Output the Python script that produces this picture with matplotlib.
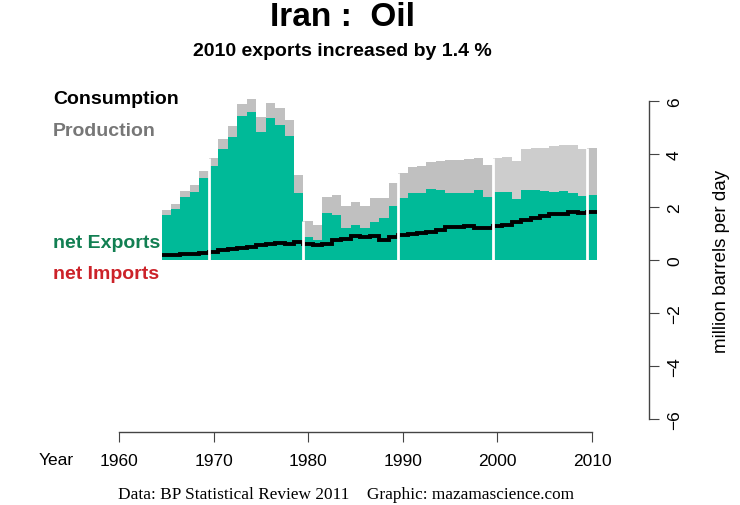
import numpy as np
import matplotlib
matplotlib.use('Agg')
import matplotlib.pyplot as plt

plt.rcParams['font.family'] = ['Liberation Sans', 'DejaVu Sans']

# Iran oil, million barrels per day
years = np.arange(1965, 2011)
production = np.array([
    1.89, 2.11, 2.59, 2.82, 3.37,
    3.85, 4.56, 5.05, 5.89, 6.06, 5.39, 5.94, 5.72, 5.29, 3.21,
    1.46, 1.31, 2.39, 2.45, 2.02, 2.20, 2.05, 2.34, 2.34, 2.90,
    3.28, 3.51, 3.53, 3.71, 3.75, 3.76, 3.78, 3.80, 3.86, 3.60,
    3.85, 3.89, 3.72, 4.18, 4.24, 4.24, 4.30, 4.34, 4.34, 4.20,
    4.24,
])
consumption = np.array([
    0.19, 0.19, 0.23, 0.24, 0.28,
    0.32, 0.36, 0.40, 0.44, 0.49, 0.55, 0.60, 0.63, 0.62, 0.69,
    0.59, 0.56, 0.62, 0.75, 0.80, 0.89, 0.86, 0.90, 0.77, 0.88,
    0.95, 0.99, 1.01, 1.04, 1.12, 1.24, 1.25, 1.27, 1.21, 1.21,
    1.28, 1.33, 1.42, 1.52, 1.58, 1.65, 1.73, 1.73, 1.83, 1.79,
    1.80,
])
net_exports = production - consumption

x_ticks = [1960, 1970, 1980, 1990, 2000, 2010]
y_ticks = [-6, -4, -2, 0, 2, 4, 6]

green = '#00BA98'
gray_dark = '#C0C0C0'
gray_light = '#CDCDCD'

fig = plt.figure(figsize=(7.4, 5.06), dpi=100)
ax = fig.add_axes([119 / 740, 1 - 433 / 506, 530 / 740, (433 - 89) / 506])

gray_cols = [gray_light if 2000 <= y < 2010 else gray_dark for y in years]
ax.bar(years, production, width=1.0, color=gray_cols, linewidth=0)
ax.bar(years, net_exports, width=1.0, color=green, linewidth=0)

# white gaps at the start of each decade
decade = years % 10 == 0
ax.vlines(years[decade] - 0.5, 0, production[decade], color='white', lw=2)

edges = np.append(years - 0.5, years[-1] + 0.5)
ax.stairs(consumption, edges, baseline=None, color='black', lw=2.8)

ax.set_xlim(1960, 1960 + 530 / 9.46)
ax.set_ylim(-6.49, 6.49)

for s in ['top', 'left']:
    ax.spines[s].set_visible(False)
ax.spines['bottom'].set_bounds(1960, 2010)
ax.spines['right'].set_bounds(-6, 6)
for s in ['bottom', 'right']:
    ax.spines[s].set_color('#444444')
    ax.spines[s].set_linewidth(1)

ax.set_xticks(x_ticks)
ax.set_xticklabels([str(t) for t in x_ticks], fontsize=12.5)
ax.tick_params(axis='x', direction='out', length=7, color='#444444', pad=8)
ax.yaxis.tick_right()
ax.set_yticks(y_ticks)
ax.set_yticklabels([str(t).replace('-', '\u2212') for t in y_ticks],
                   fontsize=12.5, rotation=90, va='center')
ax.tick_params(axis='y', direction='out', length=7, color='#444444', pad=6)
ax.yaxis.set_label_position('right')
ax.set_ylabel('million barrels per day', fontsize=13.5, labelpad=22)

fig.text(56 / 740, 1 - 461 / 506, 'Year', fontsize=12.5, ha='center', va='center')

fig.text(342 / 740, 1 - 17 / 506, 'Iran :  Oil', fontsize=24, fontweight='bold',
         ha='center', va='center')
fig.text(342 / 740, 1 - 51 / 506, '2010 exports increased by 1.4 %', fontsize=14,
         fontweight='bold', ha='center', va='center')

fig.text(53 / 740, 1 - 100 / 506, 'Consumption', fontsize=14, fontweight='bold',
         color='black', va='center')
fig.text(53 / 740, 1 - 131 / 506, 'Production', fontsize=14, fontweight='bold',
         color='#777777', va='center')
fig.text(53 / 740, 1 - 243 / 506, 'net Exports', fontsize=14, fontweight='bold',
         color='#127F52', va='center')
fig.text(53 / 740, 1 - 275 / 506, 'net Imports', fontsize=14, fontweight='bold',
         color='#CC2229', va='center')

fig.text(346 / 740, 1 - 495 / 506,
         'Data: BP Statistical Review 2011    Graphic: mazamascience.com',
         fontsize=12.4, family=['Liberation Serif', 'DejaVu Serif'],
         ha='center', va='center')

fig.savefig('out.png', dpi=100)
